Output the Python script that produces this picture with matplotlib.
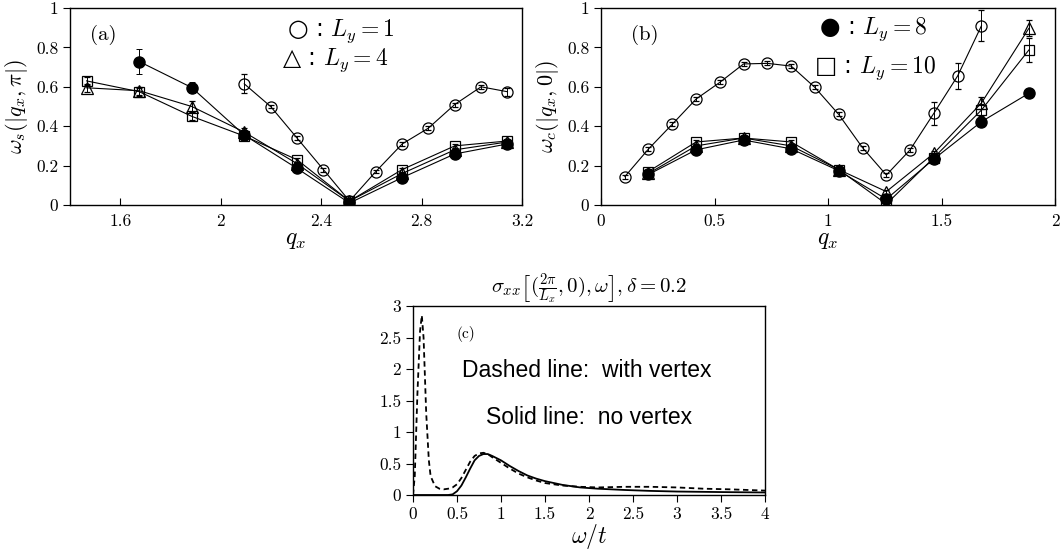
import matplotlib
matplotlib.use("Agg")
import matplotlib.pyplot as plt

plt.rcParams['font.family'] = ['cmr10', 'DejaVu Sans']
plt.rcParams['mathtext.fontset'] = 'cm'
plt.rcParams['axes.formatter.use_mathtext'] = True
plt.rcParams['axes.unicode_minus'] = False

# ---- panel (a): omega_s(|q_x, pi|) ----
qa_ly1 = [2.094, 2.199, 2.304, 2.409, 2.513, 2.618, 2.723, 2.827, 2.932, 3.037, 3.142]
wa_ly1 = [0.615, 0.50, 0.34, 0.18, 0.02, 0.17, 0.31, 0.39, 0.51, 0.60, 0.575]
ea_ly1 = [0.048, 0.01, 0.01, 0.01, 0.01, 0.01, 0.01, 0.01, 0.01, 0.01, 0.02]

qa = [1.466, 1.676, 1.885, 2.094, 2.304, 2.513, 2.723, 2.932, 3.142]
wa_ly4 = [0.595, 0.58, 0.50, 0.37, 0.21, 0.02, 0.16, 0.28, 0.32]
ea_ly4 = [0.02, 0.02, 0.03, 0.02, 0.01, 0.01, 0.01, 0.01, 0.01]
wa_ly10 = [0.63, 0.575, 0.45, 0.35, 0.23, 0.02, 0.18, 0.30, 0.325]
ea_ly10 = [0.02, 0.02, 0.02, 0.02, 0.01, 0.01, 0.01, 0.01, 0.01]
qa_ly8 = [1.676, 1.885, 2.094, 2.304, 2.513, 2.723, 2.932, 3.142]
wa_ly8 = [0.728, 0.596, 0.355, 0.186, 0.01, 0.139, 0.259, 0.31]
ea_ly8 = [0.065, 0.03, 0.02, 0.01, 0.01, 0.01, 0.01, 0.01]

# ---- panel (b): omega_c(|q_x, 0|) ----
qb_ly1 = [0.105, 0.209, 0.314, 0.419, 0.524, 0.628, 0.733, 0.838, 0.942,
          1.047, 1.152, 1.257, 1.361, 1.466, 1.571, 1.676]
wb_ly1 = [0.144, 0.284, 0.41, 0.538, 0.623, 0.716, 0.719, 0.705, 0.597,
          0.46, 0.291, 0.152, 0.279, 0.465, 0.655, 0.91]
eb_ly1 = [0.01, 0.01, 0.01, 0.01, 0.01, 0.01, 0.01, 0.01, 0.01,
          0.01, 0.01, 0.01, 0.01, 0.06, 0.065, 0.08]

qb = [0.209, 0.419, 0.628, 0.838, 1.047, 1.257, 1.466, 1.676, 1.885]
wb_ly4 = [0.16, 0.30, 0.34, 0.30, 0.18, 0.068, 0.262, 0.518, 0.897]
eb_ly4 = [0.01, 0.01, 0.01, 0.01, 0.01, 0.01, 0.01, 0.03, 0.04]
wb_ly8 = [0.155, 0.28, 0.33, 0.285, 0.174, 0.03, 0.233, 0.423, 0.567]
eb_ly8 = [0.01, 0.01, 0.01, 0.01, 0.01, 0.01, 0.01, 0.02, 0.02]
wb_ly10 = [0.17, 0.32, 0.34, 0.32, 0.18, 0.005, 0.24, 0.482, 0.787]
eb_ly10 = [0.01, 0.01, 0.01, 0.01, 0.01, 0.01, 0.01, 0.03, 0.06]

# ---- panel (c): sigma_xx ----
omega_d = [0, 0.02, 0.05, 0.08, 0.1, 0.12, 0.15, 0.18, 0.2, 0.25, 0.3, 0.35, 0.4,
           0.45, 0.5, 0.55, 0.6, 0.65, 0.7, 0.75, 0.8, 0.85, 0.9, 1.0, 1.1, 1.2,
           1.3, 1.4, 1.5, 1.7, 1.9, 2.1, 2.4, 2.7, 3.0, 3.3, 3.6, 4.0]
sigma_vertex = [0, 0.3, 1.6, 2.6, 2.85, 2.5, 1.3, 0.55, 0.3, 0.14, 0.1, 0.09, 0.1,
                0.12, 0.17, 0.27, 0.4, 0.53, 0.62, 0.66, 0.67, 0.65, 0.6, 0.51, 0.42,
                0.34, 0.28, 0.23, 0.19, 0.15, 0.13, 0.12, 0.13, 0.13, 0.12, 0.1, 0.09, 0.07]
omega_s = [0, 0.2, 0.4, 0.45, 0.5, 0.55, 0.6, 0.65, 0.7, 0.75, 0.8, 0.85, 0.9, 1.0,
           1.1, 1.2, 1.3, 1.4, 1.5, 1.7, 1.9, 2.1, 2.4, 2.7, 3.0, 3.3, 3.6, 4.0]
sigma_novertex = [0, 0, 0, 0.01, 0.06, 0.15, 0.28, 0.42, 0.55, 0.62, 0.65, 0.65, 0.62,
                  0.55, 0.46, 0.38, 0.31, 0.26, 0.22, 0.16, 0.12, 0.1, 0.08, 0.065,
                  0.055, 0.05, 0.045, 0.04]

W, H = 1063, 558
fig = plt.figure(figsize=(W / 100, H / 100), dpi=100)
ax_a = fig.add_axes([70 / W, 1 - 205 / H, 452 / W, 197 / H])
ax_b = fig.add_axes([601 / W, 1 - 205 / H, 454 / W, 197 / H])
ax_c = fig.add_axes([413 / W, 1 - 495 / H, 352 / W, 189 / H])

lw = 0.8
ms = 8
common = dict(color='black', lw=lw, elinewidth=0.7, capsize=2.5, capthick=0.7)


def open_series(ax, x, y, e, marker, size=ms):
    ax.errorbar(x, y, yerr=e, marker=marker, ms=size, mfc='none', mec='black',
                mew=0.9, **common)


def filled_series(ax, x, y, e):
    ax.errorbar(x, y, yerr=e, marker='o', ms=ms, mfc='black', mec='black', **common)


open_series(ax_a, qa_ly1, wa_ly1, ea_ly1, 'o')
open_series(ax_a, qa, wa_ly4, ea_ly4, '^')
open_series(ax_a, qa, wa_ly10, ea_ly10, 's', 7.5)
filled_series(ax_a, qa_ly8, wa_ly8, ea_ly8)

open_series(ax_b, qb_ly1, wb_ly1, eb_ly1, 'o')
open_series(ax_b, qb, wb_ly4, eb_ly4, '^')
open_series(ax_b, qb, wb_ly10, eb_ly10, 's', 7.5)
filled_series(ax_b, qb, wb_ly8, eb_ly8)

ax_c.plot(omega_d, sigma_vertex, color='black', lw=1.3, ls=(0, (3, 2)))
ax_c.plot(omega_s, sigma_novertex, color='black', lw=1.3)

tick_fs = 12.5
for ax in (ax_a, ax_b):
    ax.set_ylim(0, 1)
    ax.set_yticks([0, 0.2, 0.4, 0.6, 0.8, 1], ['0', '0.2', '0.4', '0.6', '0.8', '1'])
    ax.tick_params(axis='x', direction='in', length=5, labelsize=tick_fs, pad=6)
    ax.tick_params(axis='y', direction='out', length=5, labelsize=tick_fs)
    ax.set_xlabel(r'$q_x$', fontsize=17, labelpad=0)

ax_a.set_xlim(1.4, 3.2)
ax_a.set_xticks([1.6, 2, 2.4, 2.8, 3.2], ['1.6', '2', '2.4', '2.8', '3.2'])
ax_a.set_ylabel(r'$\omega_s(|q_x,\pi|)$', fontsize=16, labelpad=4)
ax_b.set_xlim(0, 2)
ax_b.set_xticks([0, 0.5, 1, 1.5, 2], ['0', '0.5', '1', '1.5', '2'])
ax_b.set_ylabel(r'$\omega_c(|q_x,0|)$', fontsize=16, labelpad=4)

sym = ['DejaVu Sans']
ax_a.text(0.045, 0.84, '(a)', transform=ax_a.transAxes, fontsize=15)
ax_a.text(0.48, 0.86, r'○ : $L_y = 1$', transform=ax_a.transAxes, fontsize=17, family=sym)
ax_a.text(0.47, 0.71, r'△ : $L_y = 4$', transform=ax_a.transAxes, fontsize=17, family=sym)
ax_b.text(0.065, 0.84, '(b)', transform=ax_b.transAxes, fontsize=15)
ax_b.text(0.48, 0.87, r'● : $L_y = 8$', transform=ax_b.transAxes, fontsize=17, family=sym)
ax_b.text(0.47, 0.67, r'□ : $L_y = 10$', transform=ax_b.transAxes, fontsize=17, family=sym)

ax_c.set_xlim(0, 4)
ax_c.set_ylim(0, 3)
ax_c.set_xticks([0, 0.5, 1, 1.5, 2, 2.5, 3, 3.5, 4],
                ['0', '0.5', '1', '1.5', '2', '2.5', '3', '3.5', '4'])
ax_c.set_yticks([0, 0.5, 1, 1.5, 2, 2.5, 3], ['0', '0.5', '1', '1.5', '2', '2.5', '3'])
ax_c.tick_params(direction='out', length=5, labelsize=tick_fs)
ax_c.set_xlabel(r'$\omega/t$', fontsize=17, labelpad=0)
ax_c.set_title(r'$\sigma_{xx}\left[(\frac{2\pi}{L_x},0),\omega\right],\delta=0.2$',
               fontsize=15, pad=6)
ax_c.text(0.5, 2.5, '(c)', fontsize=11)
ax_c.text(1.97, 1.98, 'Dashed line:  with vertex', fontsize=16.5, ha='center', va='center',
          family=['Liberation Sans'])
ax_c.text(2.0, 1.23, 'Solid line:  no vertex', fontsize=16.5, ha='center', va='center',
          family=['Liberation Sans'])

for ax in (ax_a, ax_b, ax_c):
    for s in ax.spines.values():
        s.set_linewidth(1.0)

fig.savefig('out.png', dpi=100)
